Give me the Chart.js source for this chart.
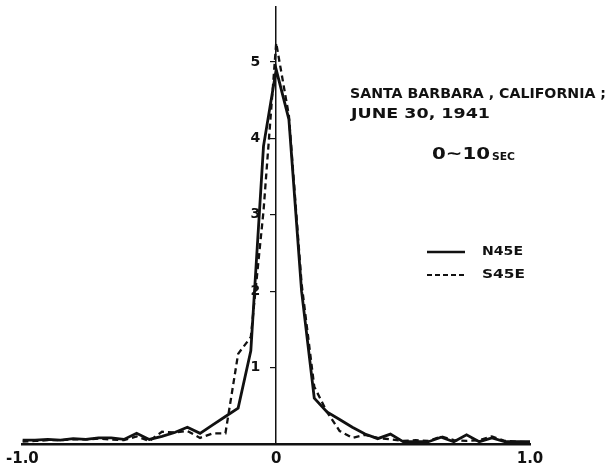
<!DOCTYPE html>
<html>
<head>
<meta charset="utf-8">
<script src="https://cdn.jsdelivr.net/npm/chart.js@4.4.0/dist/chart.umd.min.js"></script>
<style>
  html, body { margin: 0; padding: 0; background: #fff; }
</style>
</head>
<body>
<canvas id="corrChart" width="609" height="474"></canvas>
<script>
// lag values (every 0.05) and the two correlation curves
const xValues = [
  -1.00, -0.95, -0.90, -0.85, -0.80, -0.75, -0.70, -0.65, -0.60, -0.55,
  -0.50, -0.45, -0.40, -0.35, -0.30, -0.25, -0.20, -0.15, -0.10, -0.05,
   0.00,  0.05,  0.10,  0.15,  0.20,  0.25,  0.30,  0.35,  0.40,  0.45,
   0.50,  0.55,  0.60,  0.65,  0.70,  0.75,  0.80,  0.85,  0.90,  0.95, 1.00
];
const n45e = [
  0.05, 0.05, 0.06, 0.05, 0.07, 0.06, 0.08, 0.08, 0.06, 0.14,
  0.06, 0.10, 0.15, 0.22, 0.14, 0.25, 0.36, 0.47, 1.22, 3.90,
  4.90, 4.25, 2.00, 0.60, 0.42, 0.32, 0.22, 0.13, 0.07, 0.13,
  0.03, 0.03, 0.03, 0.09, 0.03, 0.12, 0.03, 0.08, 0.03, 0.03, 0.03
];
const s45e = [
  0.03, 0.04, 0.05, 0.05, 0.06, 0.06, 0.07, 0.06, 0.05, 0.10,
  0.04, 0.16, 0.15, 0.17, 0.08, 0.14, 0.14, 1.18, 1.40, 3.05,
  5.25, 4.30, 2.10, 0.75, 0.42, 0.17, 0.08, 0.12, 0.08, 0.06,
  0.04, 0.05, 0.04, 0.10, 0.05, 0.04, 0.05, 0.10, 0.04, 0.03, 0.02
];
const yTickValues = [1, 2, 3, 4, 5];
const xTickLabels = { "-1": "-1.0", "0": "0", "1": "1.0" };
const seriesNames = ["N45E", "S45E"];
const titleLines = ["SANTA BARBARA , CALIFORNIA ;", "JUNE 30, 1941"];
const windowLabel = ["0~10", "SEC"];

const FONT = "'DejaVu Sans', 'Liberation Sans', sans-serif";

// squeeze/stretch a text run to a given width
function fitText(c, text, x, y, width) {
  const w = c.measureText(text).width;
  c.save();
  c.translate(x, y);
  c.scale(width / w, 1);
  c.fillText(text, 0, 0);
  c.restore();
}

const notesPlugin = {
  id: "notes",
  afterDraw(chart) {
    const c = chart.ctx;
    const xs = chart.scales.x, ys = chart.scales.y;
    c.save();
    c.fillStyle = "#111";
    c.strokeStyle = "#111";
    c.textBaseline = "middle";

    // y tick labels, left of the centre axis
    c.textAlign = "right";
    c.font = "bold 14px " + FONT;
    const axisX = xs.getPixelForValue(0);
    yTickValues.forEach(v => {
      c.fillText(String(v), axisX - 16, ys.getPixelForValue(v));
    });

    c.textAlign = "left";
    c.font = "bold 14px " + FONT;
    fitText(c, titleLines[0], 350, 94, 256);
    fitText(c, titleLines[1], 351, 114, 139);

    c.font = "bold 15px " + FONT;
    fitText(c, windowLabel[0], 432, 155, 58);
    c.font = "bold 11px " + FONT;
    fitText(c, windowLabel[1], 492, 157, 23);

    // legend
    c.lineWidth = 2.5;
    c.beginPath();
    c.moveTo(427, 252); c.lineTo(465, 252);
    c.stroke();
    c.setLineDash([5, 3]);
    c.lineWidth = 2;
    c.beginPath();
    c.moveTo(427, 275); c.lineTo(465, 275);
    c.stroke();
    c.setLineDash([]);
    c.font = "bold 13px " + FONT;
    fitText(c, seriesNames[0], 482, 252, 41);
    fitText(c, seriesNames[1], 482, 275, 43);
    c.restore();
  }
};

const ctx = document.getElementById("corrChart").getContext("2d");
new Chart(ctx, {
  type: "line",
  data: {
    datasets: [
      {
        label: seriesNames[0],
        data: xValues.map((x, i) => ({ x: x, y: n45e[i] })),
        borderColor: "#111",
        borderWidth: 2.8,
        pointRadius: 0,
        tension: 0
      },
      {
        label: seriesNames[1],
        data: xValues.map((x, i) => ({ x: x, y: s45e[i] })),
        borderColor: "#111",
        borderWidth: 2.3,
        borderDash: [6, 4],
        pointRadius: 0,
        tension: 0
      }
    ]
  },
  options: {
    responsive: false,
    animation: false,
    devicePixelRatio: 1,
    layout: { padding: { left: 22, right: 79, top: 7, bottom: 0 } },
    plugins: {
      legend: { display: false },
      tooltip: { enabled: false }
    },
    scales: {
      x: {
        type: "linear",
        min: -1,
        max: 1,
        grid: { display: false, drawTicks: false },
        border: { display: true, color: "#111", width: 2.5 },
        ticks: {
          stepSize: 1,
          padding: 6,
          color: "#111",
          font: { family: FONT, size: 15, weight: "bold" },
          callback: v => xTickLabels[String(v)] ?? ""
        }
      },
      y: {
        position: { x: 0 },
        min: 0,
        max: 5.72,
        afterBuildTicks: axis => { axis.ticks = yTickValues.map(v => ({ value: v })); },
        grid: { drawOnChartArea: false, drawTicks: true, tickLength: 5, color: "#111", lineWidth: 1.2 },
        border: { display: true, color: "#111", width: 1.5 },
        ticks: { display: false }
      }
    }
  },
  plugins: [notesPlugin]
});
</script>
</body>
</html>
